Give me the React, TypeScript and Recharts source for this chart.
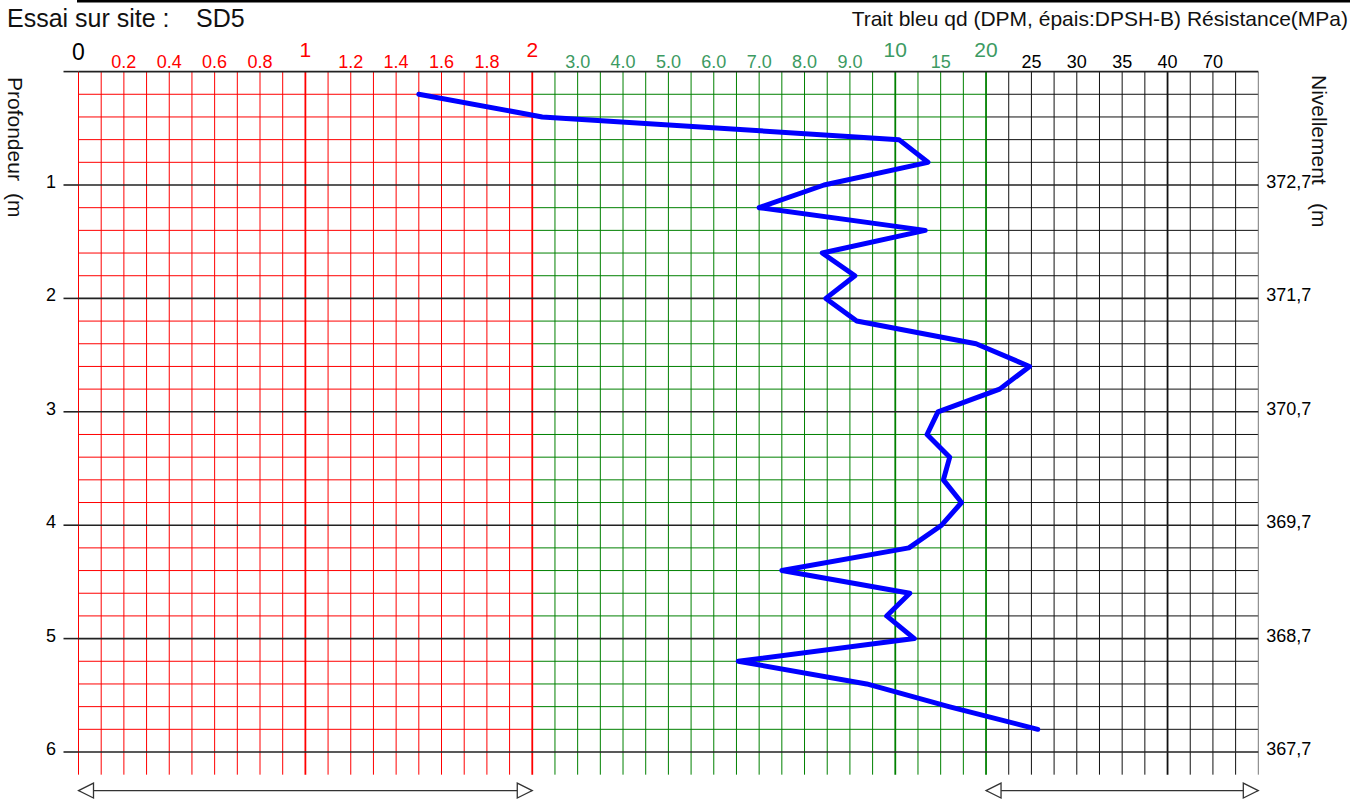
import { ReferenceLine, Scatter, ScatterChart, XAxis, YAxis } from 'recharts';

// composite qd scale: every labelled stop sits 2 grid columns further right
const scaleStops = [0, 0.2, 0.4, 0.6, 0.8, 1, 1.2, 1.4, 1.6, 1.8, 2, 3, 4, 5, 6, 7, 8, 9, 10, 15, 20, 25, 30, 35, 40, 70, 100];
const scaleLabels = ['0', '0.2', '0.4', '0.6', '0.8', '1', '1.2', '1.4', '1.6', '1.8', '2', '3.0', '4.0', '5.0', '6.0', '7.0', '8.0', '9.0', '10', '15', '20', '25', '30', '35', '40', '70', ''];
const majorLabels = ['0', '1', '2', '10', '20'];

// depth (m) / qd (MPa)
const depths = [0.2, 0.4, 0.6, 0.8, 1.0, 1.2, 1.4, 1.6, 1.8, 2.0, 2.2, 2.4, 2.6, 2.8, 3.0, 3.2, 3.4, 3.6, 3.8, 4.0, 4.2, 4.4, 4.6, 4.8, 5.0, 5.2, 5.4, 5.6, 5.8];
const qd = [1.5, 2.22, 10.4, 13.6, 8.43, 7.0, 13.3, 8.39, 9.11, 8.47, 9.15, 18.9, 24.8, 21.5, 14.7, 13.5, 16.0, 15.3, 17.3, 15.1, 11.5, 7.5, 11.6, 9.81, 12.1, 6.54, 9.37, 15.9, 25.7];

const depthTicks = [0, 1, 2, 3, 4, 5, 6];
const elevationTicks = [1, 2, 3, 4, 5, 6];
const elevationLabels = ['372,7', '371,7', '370,7', '369,7', '368,7', '367,7'];

const W = 1364;
const H = 803;
const COLS = 52;
const GRID_BOTTOM = 6.2;
const ARROW_DEPTH = 6.34;
const RED = '#ff0000';
const GREEN = '#008000';
const GREEN_TEXT = '#3c9a62';
const FONT = '"Liberation Sans", Arial, sans-serif';

function toUnit(v: number) {
  for (let i = 0; i < scaleStops.length - 1; i++) {
    const a = scaleStops[i];
    const b = scaleStops[i + 1];
    if (v <= b) return 2 * i + (2 * (v - a)) / (b - a);
  }
  return COLS;
}

const profile = depths.map((d, i) => ({ d, u: toUnit(qd[i]) }));
const unitTicks = scaleLabels.map((_, i) => i * 2).filter((u) => u < COLS);
const columns = Array.from({ length: COLS + 1 }, (_, u) => u);
const rows = Array.from({ length: 31 }, (_, k) => k);

function colColor(u: number) {
  if (u <= 20) return RED;
  if (u <= 40) return GREEN;
  return u === COLS ? '#777' : '#111';
}

function colWidth(u: number) {
  return u === 10 || u === 20 || u === 36 || u === 40 || u === 48 ? 1.8 : 1;
}

function QdTick(props: any) {
  const { x, payload } = props;
  const u = payload.value as number;
  const label = scaleLabels[Math.round(u / 2)];
  const major = majorLabels.includes(label);
  const fill = label === '0' ? '#000' : u <= 20 ? RED : u <= 40 ? GREEN_TEXT : '#000';
  const size = label === '0' ? 23 : major ? 21 : 18;
  const y = label === '0' ? 60 : major ? 57 : 68;
  return (
    <text x={x} y={y} textAnchor="middle" fontSize={size} fill={fill} fontFamily={FONT}>
      {label}
    </text>
  );
}

function DepthTick(props: any) {
  const { x, y, payload } = props;
  if (payload.value === 0) return <g />;
  return (
    <text x={x} y={y + 3} textAnchor="end" fontSize={18} fill="#000" fontFamily={FONT}>
      {payload.value}
    </text>
  );
}

function ElevationTick(props: any) {
  const { x, y, payload } = props;
  const label = elevationLabels[elevationTicks.indexOf(payload.value)];
  return (
    <text x={x} y={y + 3} textAnchor="start" fontSize={18} fill="#000" fontFamily={FONT}>
      {label}
    </text>
  );
}

const arrowShape = (p: any) => {
  const { x1, y1, x2, y2 } = p;
  return (
    <g stroke="#333" strokeWidth={1.3} fill="#fff">
      <line x1={x1} y1={y1} x2={x2} y2={y2} />
      <polygon points={`${x1},${y1} ${x1 + 15},${y1 - 7.5} ${x1 + 15},${y1 + 7.5}`} />
      <polygon points={`${x2},${y2} ${x2 - 15},${y2 - 7.5} ${x2 - 15},${y2 + 7.5}`} />
    </g>
  );
};

export default function App() {
  return (
    <div style={{ position: 'absolute', left: 0, top: 0, width: W, height: H, background: '#fff', fontFamily: FONT }}>
      <ScatterChart width={W} height={H} margin={{ top: 0, right: 0, bottom: 5.64, left: 0 }}>
        <XAxis
          type="number"
          dataKey="u"
          orientation="top"
          height={71.6}
          domain={[0, COLS]}
          ticks={unitTicks}
          interval={0}
          allowDataOverflow
          axisLine={false}
          tickLine={false}
          tick={<QdTick />}
        />
        <YAxis
          type="number"
          dataKey="d"
          width={78.5}
          domain={[0, 6.4]}
          reversed
          allowDataOverflow
          ticks={depthTicks}
          interval={0}
          axisLine={false}
          tickSize={15}
          tickMargin={7.5}
          tickLine={{ stroke: '#222', strokeWidth: 1.6 }}
          tick={<DepthTick />}
        />
        <YAxis
          yAxisId="r"
          orientation="right"
          type="number"
          width={105.7}
          domain={[0, 6.4]}
          reversed
          allowDataOverflow
          ticks={elevationTicks}
          interval={0}
          axisLine={false}
          tickLine={false}
          tickSize={0}
          tickMargin={8}
          tick={<ElevationTick />}
        />

        {rows
          .filter((k) => k % 5 !== 0)
          .flatMap((k) => [
            <ReferenceLine key={`hr${k}`} segment={[{ x: 0, y: k / 5 }, { x: 20, y: k / 5 }]} stroke={RED} strokeWidth={1} />,
            <ReferenceLine key={`hg${k}`} segment={[{ x: 20, y: k / 5 }, { x: 40, y: k / 5 }]} stroke={GREEN} strokeWidth={1} />,
            <ReferenceLine key={`hb${k}`} segment={[{ x: 40, y: k / 5 }, { x: COLS, y: k / 5 }]} stroke="#111" strokeWidth={1} />,
          ])}
        {columns.map((u) => (
          <ReferenceLine
            key={`v${u}`}
            segment={[{ x: u, y: 0 }, { x: u, y: GRID_BOTTOM }]}
            stroke={colColor(u)}
            strokeWidth={colWidth(u)}
          />
        ))}
        {rows
          .filter((k) => k % 5 === 0)
          .map((k) => (
            <ReferenceLine key={`hm${k}`} segment={[{ x: 0, y: k / 5 }, { x: COLS, y: k / 5 }]} stroke="#222" strokeWidth={1.6} />
          ))}

        <ReferenceLine segment={[{ x: 0, y: ARROW_DEPTH }, { x: 20, y: ARROW_DEPTH }]} shape={arrowShape} />
        <ReferenceLine segment={[{ x: 40, y: ARROW_DEPTH }, { x: COLS, y: ARROW_DEPTH }]} shape={arrowShape} />

        <Scatter
          data={profile}
          fill="#0000ff"
          line={{ stroke: '#0000ff', strokeWidth: 5, strokeLinejoin: 'round', strokeLinecap: 'round' }}
          shape={() => <g />}
          isAnimationActive={false}
        />
      </ScatterChart>

      <svg width={W} height={H} style={{ position: 'absolute', left: 0, top: 0, pointerEvents: 'none' }} fontFamily={FONT}>
        <rect x={77} y={0} width={1273} height={2.5} fill="#000" />
        <text x={7} y={27} fontSize={25} fill="#111">Essai sur site :</text>
        <text x={196} y={27} fontSize={25} fill="#111">SD5</text>
        <text x={1348} y={26} fontSize={21} textAnchor="end" fill="#111">
          Trait bleu qd (DPM, épais:DPSH-B) Résistance(MPa)
        </text>
        <text transform="translate(8,77) rotate(90)" fontSize={21} fill="#111">Profondeur</text>
        <text transform="translate(8,193) rotate(90)" fontSize={21} fill="#111">(m</text>
        <text transform="translate(1312,75) rotate(90)" fontSize={21} fill="#111">Nivellement</text>
        <text transform="translate(1312,203) rotate(90)" fontSize={21} fill="#111">(m</text>
      </svg>
    </div>
  );
}
